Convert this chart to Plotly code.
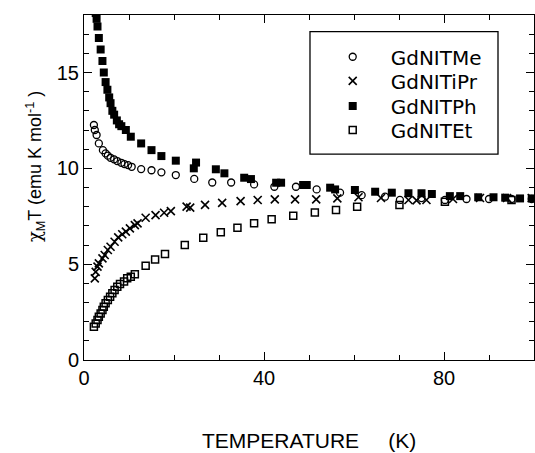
import plotly.graph_objects as go

# GdNITMe (open circles)
T_me = [2.2, 2.4, 2.8, 3.3, 4.2, 4.8, 5.3, 5.9, 6.7, 7.4, 8.3, 9.0, 9.8, 10.6, 12.7, 15.0,
        17.2, 20.4, 24.5, 28.5, 32.7, 37.8, 42.3, 47.1, 51.7, 56.9, 61.7, 66.9, 70.2, 75.0,
        80.2, 85.0, 90.0, 95.0, 99.5]
chi_me = [12.26, 12.0, 11.74, 11.3, 10.95, 10.78, 10.66, 10.55, 10.47, 10.38, 10.29, 10.22,
          10.17, 10.08, 9.96, 9.9, 9.79, 9.65, 9.45, 9.26, 9.26, 9.16, 9.04, 9.04, 8.9, 8.73,
          8.6, 8.52, 8.35, 8.45, 8.35, 8.4, 8.4, 8.4, 8.4]

# GdNITiPr (crosses)
T_ipr = [2.4, 2.6, 3.0, 3.3, 4.1, 4.6, 5.3, 5.9, 6.8, 7.6, 8.5, 9.3, 10.2, 11.3, 11.9, 13.7,
         15.9, 17.8, 19.3, 22.8, 23.6, 26.9, 30.7, 34.8, 38.6, 42.4, 46.9, 51.6, 56.3, 61.0,
         66.0, 72.1, 73.9, 76.1, 82.0, 88.0, 94.0, 99.5]
chi_ipr = [4.26, 4.6, 4.87, 5.04, 5.3, 5.48, 5.74, 5.91, 6.17, 6.4, 6.56, 6.7, 6.87, 7.04,
           7.13, 7.42, 7.56, 7.68, 7.77, 8.0, 7.95, 8.09, 8.2, 8.29, 8.35, 8.38, 8.38, 8.38,
           8.43, 8.49, 8.45, 8.35, 8.33, 8.35, 8.4, 8.45, 8.45, 8.45]

# GdNITPh (filled squares)
T_ph = [2.6, 2.8, 3.0, 3.3, 3.7, 4.1, 4.4, 4.8, 5.2, 5.6, 5.9, 6.3, 6.7, 7.3, 7.8, 8.3, 9.3,
        10.4, 12.7, 15.0, 17.2, 20.4, 24.4, 24.9, 29.3, 31.2, 35.6, 37.1, 42.7, 43.8, 48.7,
        49.5, 54.7, 55.8, 60.2, 64.7, 68.4, 72.1, 75.0, 77.3, 81.3, 83.6, 87.6, 91.0, 93.6,
        96.9, 99.5]
chi_ph = [18.1, 17.8, 17.4, 16.8, 16.2, 15.6, 15.0, 14.5, 14.1, 13.7, 13.4, 13.0, 12.8, 12.5,
          12.3, 12.2, 12.0, 11.65, 11.3, 10.95, 10.64, 10.4, 10.0, 10.3, 9.95, 9.74, 9.51,
          9.44, 9.25, 9.25, 9.13, 9.13, 8.99, 8.9, 8.87, 8.78, 8.73, 8.7, 8.7, 8.66, 8.55,
          8.55, 8.49, 8.49, 8.47, 8.43, 8.43]

# GdNITEt (open squares)
T_et = [2.2, 2.6, 3.0, 3.3, 3.7, 4.1, 4.4, 4.8, 5.3, 5.8, 6.3, 6.8, 7.4, 8.0, 8.9, 9.6, 10.4,
        11.3, 13.7, 15.8, 18.0, 22.4, 26.5, 30.4, 34.1, 37.8, 41.7, 46.5, 51.3, 56.0, 60.7,
        70.1, 80.2, 95.0]
chi_et = [1.74, 1.91, 2.09, 2.26, 2.43, 2.61, 2.78, 2.96, 3.13, 3.3, 3.48, 3.65, 3.82, 3.96,
          4.09, 4.26, 4.35, 4.47, 4.92, 5.25, 5.53, 6.0, 6.38, 6.66, 6.9, 7.13, 7.34, 7.53,
          7.7, 7.82, 8.0, 8.09, 8.26, 8.35]

series_names = ["GdNITMe", "GdNITiPr", "GdNITPh", "GdNITEt"]
x_ticks = [0, 40, 80]
y_ticks = [0, 5, 10, 15]

FONT = "Liberation Sans, Arial, Helvetica, sans-serif"

fig = go.Figure()
fig.add_trace(go.Scatter(x=T_me, y=chi_me, mode="markers", name=series_names[0], legend="legend",
                         marker=dict(symbol="circle-open", size=7, color="black",
                                     line=dict(width=1.3, color="black"))))
fig.add_trace(go.Scatter(x=T_ipr, y=chi_ipr, mode="markers", name=series_names[1], legend="legend2",
                         marker=dict(symbol="x-thin-open", size=8, color="black",
                                     line=dict(width=1.6, color="black"))))
fig.add_trace(go.Scatter(x=T_ph, y=chi_ph, mode="markers", name=series_names[2], legend="legend3",
                         marker=dict(symbol="square", size=8, color="black",
                                     line=dict(width=0))))
fig.add_trace(go.Scatter(x=T_et, y=chi_et, mode="markers", name=series_names[3], legend="legend4",
                         marker=dict(symbol="square-open", size=7, color="black",
                                     line=dict(width=1.5, color="black"))))

# one legend per row so the row spacing matches the reference
row_y = [0.879, 0.809, 0.736, 0.667]
leg_common = dict(x=0.5127, xanchor="left", yanchor="middle", bgcolor="rgba(0,0,0,0)",
                  borderwidth=0, font=dict(size=20, family="DejaVu Sans, sans-serif"), itemwidth=66)

fig.update_layout(
    width=535, height=453,
    margin=dict(l=84, r=1, t=15, b=93),
    paper_bgcolor="white", plot_bgcolor="white",
    font=dict(family=FONT, size=20, color="black"),
    showlegend=True,
    legend=dict(y=row_y[0], **leg_common),
    legend2=dict(y=row_y[1], **leg_common),
    legend3=dict(y=row_y[2], **leg_common),
    legend4=dict(y=row_y[3], **leg_common),
    xaxis=dict(range=[0, 100], tickvals=x_ticks, ticks="inside", ticklen=8, tickwidth=1,
               tickcolor="black", showline=True, linecolor="black", linewidth=1,
               mirror="ticks", showgrid=False, zeroline=False,
               tickfont=dict(size=20),
               minor=dict(dtick=10, ticks="inside", ticklen=5, tickcolor="black", showgrid=False)),
    yaxis=dict(range=[0, 18], tickvals=y_ticks, ticks="inside", ticklen=8, tickwidth=1,
               tickcolor="black", showline=True, linecolor="black", linewidth=1,
               mirror="ticks", showgrid=False, zeroline=False,
               tickfont=dict(size=20),
               minor=dict(dtick=1, ticks="inside", ticklen=5, tickcolor="black", showgrid=False)),
    shapes=[dict(type="rect", xref="paper", yref="paper", x0=0.5022, x1=0.92, y0=0.597, y1=0.9516,
                 line=dict(color="black", width=1.3), fillcolor="white", layer="below")],
    annotations=[
        dict(text="TEMPERATURE\u00a0\u00a0\u00a0\u00a0\u00a0(K)", xref="paper", yref="paper",
             x=0.5, y=-0.232, xanchor="center", yanchor="middle", showarrow=False,
             font=dict(size=21)),
        dict(text="<span style=\"font-family:DejaVu Serif\">\u03c7</span><sub>M</sub>T (emu K mol<sup>-1</sup> )",
             xref="paper", yref="paper",
             x=-0.109, y=0.562, xanchor="center", yanchor="middle", showarrow=False,
             textangle=-90, font=dict(size=18)),
    ],
)

fig.write_html("out.html")
